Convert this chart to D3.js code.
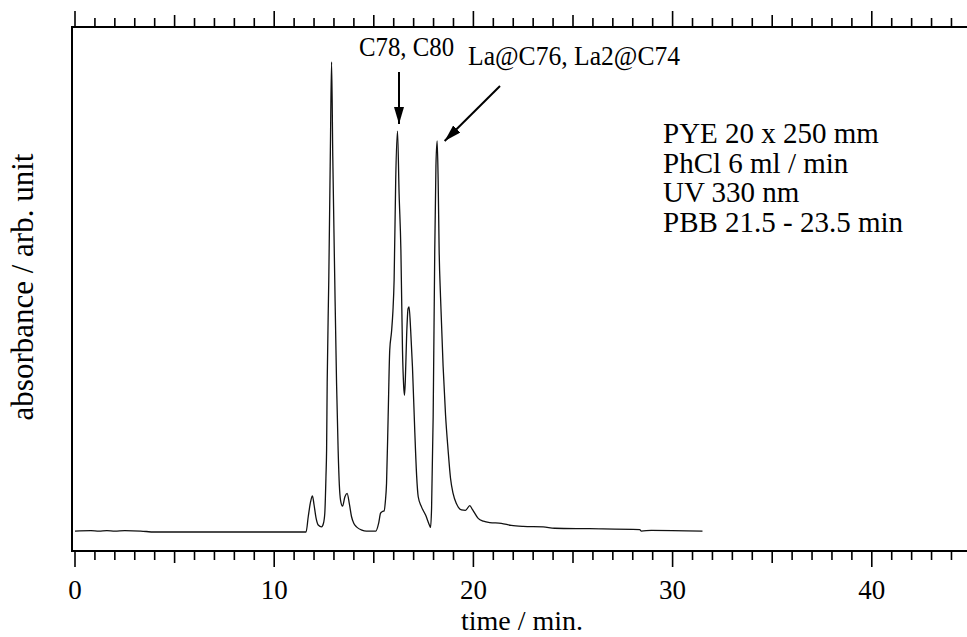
<!DOCTYPE html>
<html>
<head>
<meta charset="utf-8">
<script src="https://cdn.jsdelivr.net/npm/d3@7"></script>
<style>
html,body{margin:0;padding:0;background:#fff;}
svg{display:block;}
text{font-family:"Liberation Serif","Times New Roman",serif;fill:#000;}
</style>
</head>
<body>
<div id="chart"></div>
<script>
// ---- data ----
const times = [0,0.8,1.2,1.6,2.0,2.5,3.3,4.0,11.6,11.71,11.83,11.92,12.0,12.1,12.21,12.38,12.47,12.54,12.60,12.63,12.66,12.74,12.82,12.88,12.94,13.04,13.13,13.21,13.27,13.33,13.43,13.55,13.66,13.78,13.88,14.0,14.13,14.4,14.63,15.1,15.25,15.34,15.45,15.52,15.58,15.64,15.72,15.80,15.89,15.96,16.02,16.10,16.19,16.27,16.36,16.44,16.50,16.54,16.58,16.65,16.72,16.77,16.85,16.94,17.06,17.15,17.23,17.39,17.6,17.8,17.85,17.9,17.98,18.06,18.12,18.18,18.23,18.28,18.35,18.48,18.6,18.73,18.85,18.98,19.15,19.4,19.6,19.82,19.95,20.24,20.5,20.82,21.4,21.9,22.5,23.5,24.08,25.84,28.35,28.43,28.93,31.5];
const absorbance = [0.002,0.003,0.002,0.003,0.002,0.003,0.002,0.000,0.000,0.033,0.065,0.077,0.058,0.030,0.015,0.011,0.018,0.040,0.12,0.174,0.317,0.536,0.813,1.0,0.80,0.536,0.317,0.174,0.10,0.068,0.055,0.075,0.082,0.058,0.033,0.018,0.011,0.004,0.002,0.002,0.020,0.040,0.044,0.045,0.065,0.104,0.245,0.387,0.426,0.47,0.536,0.75,0.853,0.72,0.60,0.387,0.31,0.291,0.32,0.42,0.475,0.479,0.43,0.352,0.211,0.12,0.075,0.054,0.036,0.014,0.010,0.05,0.245,0.60,0.78,0.832,0.75,0.60,0.50,0.352,0.25,0.174,0.115,0.082,0.060,0.047,0.046,0.056,0.048,0.029,0.023,0.020,0.0185,0.014,0.012,0.011,0.008,0.007,0.005,0.002,0.0035,0.002];
const xTickLabels = [0,10,20,30,40];
const peakLabels = ["C78, C80","La@C76, La2@C74"];
const peakTimes = [16.19,18.18];
const conditions = ["PYE 20 x 250 mm","PhCl 6 ml / min","UV 330 nm","PBB 21.5 - 23.5 min"];
const xTitle = "time / min.";
const yTitle = "absorbance / arb. unit";

// ---- layout ----
const W = 967, H = 637;
const svg = d3.select("#chart").append("svg").attr("width",W).attr("height",H);

const x = d3.scaleLinear().domain([0,45]).range([75, 75+45*19.92]);
const y = d3.scaleLinear().domain([0,1]).range([532,62]);
const topY = 27, botY = 551, leftX = 72;

const data = times.map((t,i)=>({t, v:absorbance[i]}));

// axes frame lines
svg.append("line").attr("x1",leftX).attr("x2",W).attr("y1",topY).attr("y2",topY)
  .attr("stroke","#000").attr("stroke-width",2);
svg.append("line").attr("x1",leftX).attr("x2",W).attr("y1",botY).attr("y2",botY)
  .attr("stroke","#000").attr("stroke-width",2);
svg.append("line").attr("x1",leftX).attr("x2",leftX).attr("y1",topY-1).attr("y2",botY+1)
  .attr("stroke","#000").attr("stroke-width",2);

// ticks (minor every 1, medium every 5, major every 10)
const tickVals = d3.range(0,45,1);
function tickLen(v){ return v%10===0 ? 16 : (v%5===0 ? 12 : 9); }
svg.append("g").selectAll("line").data(tickVals).join("line")
  .attr("x1",d=>x(d)).attr("x2",d=>x(d))
  .attr("y1",botY).attr("y2",d=>botY+tickLen(d))
  .attr("stroke","#000").attr("stroke-width",1.6);
svg.append("g").selectAll("line").data(tickVals).join("line")
  .attr("x1",d=>x(d)).attr("x2",d=>x(d))
  .attr("y1",topY).attr("y2",d=>topY-tickLen(d))
  .attr("stroke","#000").attr("stroke-width",1.6);

// tick labels
svg.append("g").selectAll("text").data(xTickLabels).join("text")
  .attr("x",d=>x(d)).attr("y",599).attr("text-anchor","middle")
  .style("font-size","27px").text(d=>d);

// axis titles
svg.append("text").attr("x",522).attr("y",630).attr("text-anchor","middle")
  .style("font-size","28px").text(xTitle);
svg.append("text").attr("transform","translate(33,287) rotate(-90)")
  .attr("text-anchor","middle").style("font-size","31px").text(yTitle);

// chromatogram
const line = d3.line().x(d=>x(d.t)).y(d=>y(d.v)).curve(d3.curveMonotoneX);
svg.append("path").datum(data).attr("d",line)
  .attr("fill","none").attr("stroke","#111").attr("stroke-width",1.3);

// arrows
const defs = svg.append("defs");
defs.append("marker").attr("id","ah").attr("viewBox","0 0 17 10")
  .attr("refX",17).attr("refY",5).attr("markerWidth",17).attr("markerHeight",10)
  .attr("markerUnits","userSpaceOnUse").attr("orient","auto")
  .append("path").attr("d","M0,0 L17,5 L0,10 Z").attr("fill","#000");

svg.append("line").attr("x1",x(peakTimes[0])+1.5).attr("y1",72).attr("x2",x(peakTimes[0])+1.5).attr("y2",124)
  .attr("stroke","#000").attr("stroke-width",2).attr("marker-end","url(#ah)");
svg.append("line").attr("x1",500).attr("y1",86).attr("x2",x(peakTimes[1])+7.5).attr("y2",141)
  .attr("stroke","#000").attr("stroke-width",2).attr("marker-end","url(#ah)");

svg.append("text").attr("transform","translate(359,56) scale(1,1.12)").style("font-size","24.8px").text(peakLabels[0]);
svg.append("text").attr("transform","translate(468,65) scale(1,1.1)").style("font-size","25.6px").text(peakLabels[1]);

// conditions block
const lineYs = [143.3,172.7,201.7,231.7];
svg.append("g").selectAll("text").data(conditions).join("text")
  .attr("x",663).attr("y",(d,i)=>lineYs[i]).style("font-size","29px").text(d=>d);
</script>
</body>
</html>
